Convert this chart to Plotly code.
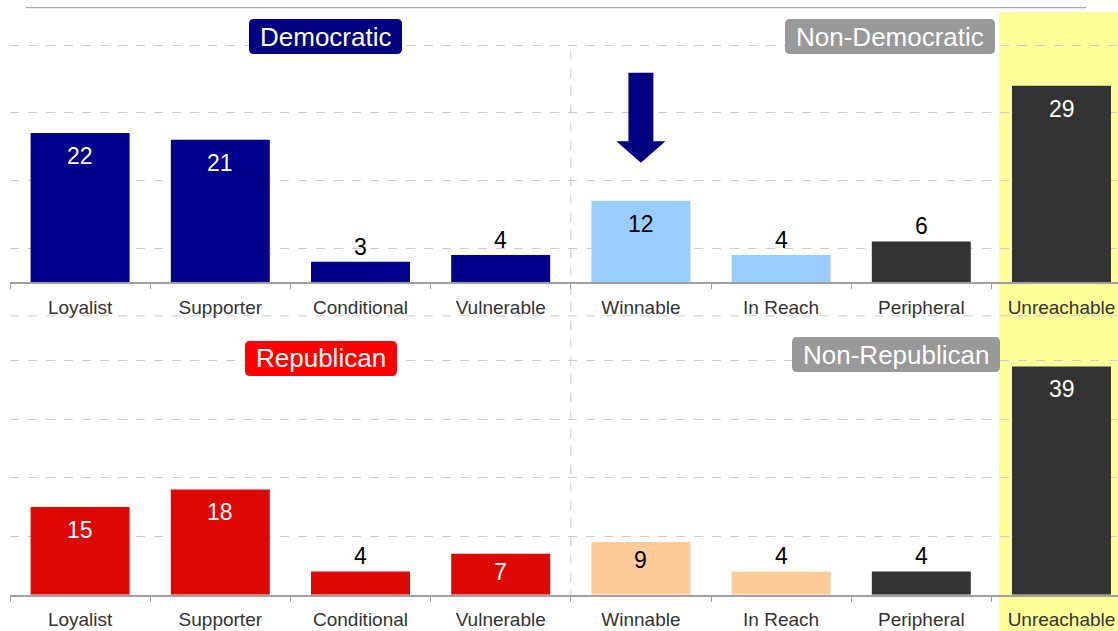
import plotly.graph_objects as go

categories = ["Loyalist", "Supporter", "Conditional", "Vulnerable",
              "Winnable", "In Reach", "Peripheral", "Unreachable"]
dem_values = [22, 21, 3, 4, 12, 4, 6, 29]
rep_values = [15, 18, 4, 7, 9, 4, 4, 39]
top_badges = ["Democratic", "Non-Democratic"]
bottom_badges = ["Republican", "Non-Republican"]

W, H = 1118, 631
FONT = "Liberation Sans, Arial, sans-serif"

# styles
top_colors = ["#00008B"] * 4 + ["#99CCFF"] * 2 + ["#333333"] * 2
bot_colors = ["#DD0806"] * 4 + ["#FFCC99"] * 2 + ["#333333"] * 2
top_txt = ["white"] * 4 + ["black"] * 2 + ["white"] * 2
bot_txt = ["white"] * 4 + ["black"] * 2 + ["white"] * 2

# layout geometry (pixels)
X0 = 10.0        # left edge of category axis
STEP = 140.2     # px per category
TOP_BASE, TOP_TOP, TOP_SCALE = 282.0, 12.0, 6.77
BOT_BASE, BOT_TOP, BOT_SCALE = 594.8, 322.0, 5.855


def pxp(x):
    return x / W


def pyp(y):
    return 1 - y / H


xrange_ = [-0.5, -0.5 + (W - X0) / STEP]

fig = go.Figure()
fig.add_trace(go.Bar(x=categories, y=dem_values, marker=dict(color=top_colors, line_width=0),
                     width=0.706, xaxis="x", yaxis="y", hoverinfo="x+y"))
fig.add_trace(go.Bar(x=categories, y=rep_values, marker=dict(color=bot_colors, line_width=0),
                     width=0.706, xaxis="x2", yaxis="y2", hoverinfo="x+y"))

axis_x = dict(type="category", categoryorder="array", categoryarray=categories,
              range=xrange_, domain=[pxp(X0), 1], tickson="boundaries",
              ticks="outside", ticklen=5, tickcolor="#A0A0A0", tickwidth=1,
              showline=True, linecolor="#A0A0A0", linewidth=1.5,
              showgrid=False, zeroline=False,
              tickfont=dict(family=FONT, size=19, color="#333333"),
              ticklabelstandoff=7, fixedrange=True)
axis_y = dict(showticklabels=False, showline=False, zeroline=False, ticks="",
              showgrid=True, gridcolor="#CCCCCC", griddash="dash", gridwidth=1,
              fixedrange=True)

fig.update_layout(
    width=W, height=H,
    margin=dict(l=0, r=0, t=0, b=0),
    paper_bgcolor="white", plot_bgcolor="rgba(0,0,0,0)",
    showlegend=False, bargap=0.3,
    font=dict(family=FONT),
    xaxis=dict(axis_x, anchor="y"),
    xaxis2=dict(axis_x, anchor="y2"),
    yaxis=dict(axis_y, anchor="x", domain=[pyp(TOP_BASE), pyp(TOP_TOP)],
               range=[0, (TOP_BASE - TOP_TOP) / TOP_SCALE], tickvals=[5, 15, 25, 35]),
    yaxis2=dict(axis_y, anchor="x2", domain=[pyp(BOT_BASE), pyp(BOT_TOP)],
                range=[0, (BOT_BASE - BOT_TOP) / BOT_SCALE], tickvals=[10, 20, 30, 40]),
)

shapes = []
# yellow highlight behind Unreachable column
shapes.append(dict(type="rect", xref="paper", yref="paper",
                   x0=pxp(X0 + 7 * STEP + 0.5 * STEP - 62.5), x1=1.0,
                   y0=0, y1=pyp(12), fillcolor="#FFFF99", line_width=0, layer="below"))
# top rule line
shapes.append(dict(type="line", xref="paper", yref="paper", x0=pxp(26), x1=pxp(1086),
                   y0=pyp(7.7), y1=pyp(7.7), line=dict(color="#AAAAAA", width=1.2)))
# extra dashed gridline of top panel (below its baseline)
shapes.append(dict(type="line", xref="paper", yref="paper", x0=pxp(X0), x1=1.0,
                   y0=pyp(TOP_BASE + 5 * TOP_SCALE), y1=pyp(TOP_BASE + 5 * TOP_SCALE),
                   line=dict(color="#CCCCCC", width=1, dash="dash"), layer="below"))
# vertical separator between party and non-party groups
xs = X0 + 4 * STEP
shapes.append(dict(type="line", xref="paper", yref="paper", x0=pxp(xs), x1=pxp(xs),
                   y0=pyp(600), y1=pyp(46), line=dict(color="#CCCCCC", width=1, dash="dash"),
                   layer="below"))

# arrow above Winnable (data coords of top panel)
cx = 4
sh, hh = 0.089, 0.175
ytop, ybase, ytip = 30.9, 20.8, 17.6
path = (f"M {cx - sh},{ytop} L {cx + sh},{ytop} L {cx + sh},{ybase} L {cx + hh},{ybase} "
        f"L {cx},{ytip} L {cx - hh},{ybase} L {cx - sh},{ybase} Z")
shapes.append(dict(type="path", xref="x", yref="y", path=path,
                   fillcolor="#000080", line_width=0))


def rounded(x0, y0, x1, y1, r=5):
    X = lambda v: pxp(v)
    Y = lambda v: pyp(v)
    return (f"M {X(x0 + r)},{Y(y0)} L {X(x1 - r)},{Y(y0)} Q {X(x1)},{Y(y0)} {X(x1)},{Y(y0 + r)} "
            f"L {X(x1)},{Y(y1 - r)} Q {X(x1)},{Y(y1)} {X(x1 - r)},{Y(y1)} "
            f"L {X(x0 + r)},{Y(y1)} Q {X(x0)},{Y(y1)} {X(x0)},{Y(y1 - r)} "
            f"L {X(x0)},{Y(y0 + r)} Q {X(x0)},{Y(y0)} {X(x0 + r)},{Y(y0)} Z")


badge_boxes = [
    (top_badges[0], (249, 19, 402, 54), "#000080"),
    (top_badges[1], (785, 19, 995, 54), "#999999"),
    (bottom_badges[0], (245, 341, 397, 376), "#FF0000"),
    (bottom_badges[1], (792, 337, 1000, 372), "#999999"),
]
annotations = []
for text, (x0, y0, x1, y1), col in badge_boxes:
    shapes.append(dict(type="path", xref="paper", yref="paper", path=rounded(x0, y0, x1, y1),
                       fillcolor=col, line_width=0))
    annotations.append(dict(xref="paper", yref="paper", x=pxp((x0 + x1) / 2), y=pyp((y0 + y1) / 2),
                            text=text, showarrow=False, xanchor="center", yanchor="middle",
                            font=dict(family=FONT, size=26, color="white")))

# value labels
for vals, tcols, xr, yr, scale in [(dem_values, top_txt, "x", "y", TOP_SCALE),
                                   (rep_values, bot_txt, "x2", "y2", BOT_SCALE)]:
    for c, v, tc in zip(categories, vals, tcols):
        hpx = v * scale
        if v <= 6:
            shift, col = 15, "black"
        else:
            shift, col = (-23 if hpx > 60 else -18), tc
        annotations.append(dict(xref=xr, yref=yr, x=c, y=v, text=str(v), showarrow=False,
                                xanchor="center", yanchor="middle", yshift=shift,
                                font=dict(family=FONT, size=23, color=col)))

fig.update_layout(shapes=shapes, annotations=annotations)
fig.write_html("out.html", config={"displayModeBar": False},
               post_script="document.body.style.margin='0';document.body.style.overflow='hidden';")
